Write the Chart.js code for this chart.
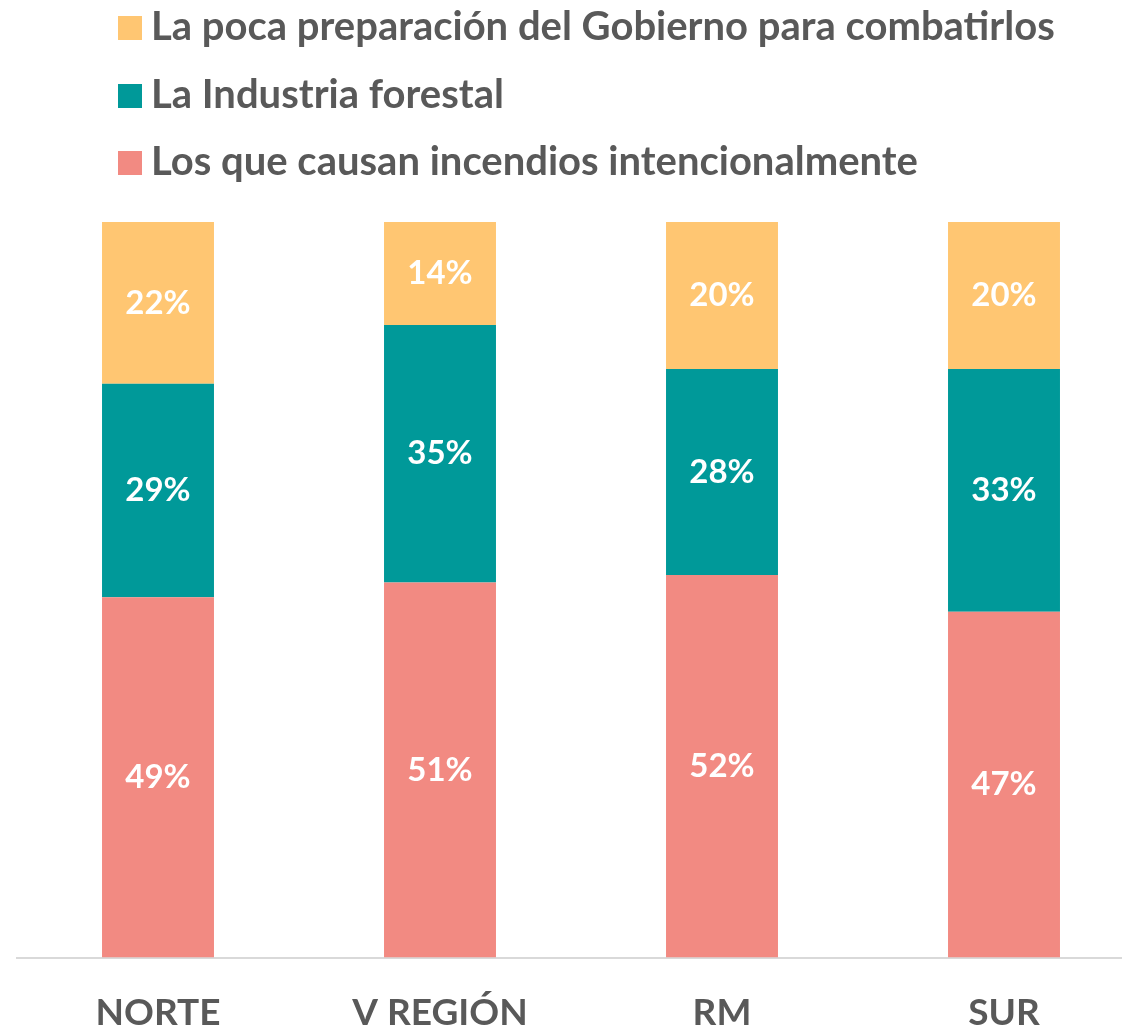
<!DOCTYPE html>
<html>
<head>
<meta charset="utf-8">
<script src="https://cdn.jsdelivr.net/npm/chart.js@4"></script>
<style>
  html, body { margin: 0; padding: 0; background: #fff; overflow: hidden; }
  #wrap { position: relative; width: 1122px; height: 1028px; overflow: hidden; }
  #chart { position: absolute; left: 0; top: 0; }
  #legend { position: absolute; left: 118px; top: -8px; font-family: Lato, sans-serif; font-weight: 700; font-size: 40px; color: #595959; }
  #legend div { height: 67.5px; line-height: 67.5px; white-space: nowrap; }
  #legend span.box { display: inline-block; width: 24px; height: 24px; margin-right: 9px; vertical-align: baseline; }
</style>
</head>
<body>
<div id="wrap">
  <canvas id="chart" width="1145" height="1060"></canvas>
  <div id="legend"></div>
</div>
<script>
const categories = ['NORTE', 'V REGIÓN', 'RM', 'SUR'];
const intencionales = [49, 51, 52, 47];
const industria = [29, 35, 28, 33];
const gobierno = [22, 14, 20, 20];
const seriesNames = [
  'Los que causan incendios intencionalmente',
  'La Industria forestal',
  'La poca preparación del Gobierno para combatirlos'
];
const colors = ['#F28A82', '#009999', '#FFC672'];

const barLabels = {
  id: 'barLabels',
  afterDatasetsDraw(chart) {
    const ctx = chart.ctx;
    ctx.save();
    ctx.font = '700 33px Lato, sans-serif';
    ctx.fillStyle = '#ffffff';
    ctx.textAlign = 'center';
    ctx.textBaseline = 'middle';
    chart.data.datasets.forEach((ds, i) => {
      chart.getDatasetMeta(i).data.forEach((bar, j) => {
        const y = (bar.y + bar.base) / 2;
        ctx.fillText(ds.data[j] + '%', bar.x, y);
      });
    });
    ctx.restore();
  }
};

const chart = new Chart(document.getElementById('chart'), {
  type: 'bar',
  data: {
    labels: categories,
    datasets: [
      { label: seriesNames[0], data: intencionales, backgroundColor: colors[0] },
      { label: seriesNames[1], data: industria, backgroundColor: colors[1] },
      { label: seriesNames[2], data: gobierno, backgroundColor: colors[2] }
    ]
  },
  options: {
    responsive: false,
    animation: false,
    layout: { padding: { top: 222, left: 17, right: 0, bottom: 0 } },
    datasets: { bar: { categoryPercentage: 1, barPercentage: 0.397 } },
    plugins: { legend: { display: false }, tooltip: { enabled: false } },
    scales: {
      x: {
        stacked: true,
        grid: { display: false },
        border: { color: '#d9d9d9', width: 2 },
        ticks: { color: '#595959', padding: 25, font: { family: 'Lato', weight: 'bold', size: 37 } }
      },
      y: {
        stacked: true,
        display: false,
        min: 0,
        max: 100
      }
    }
  },
  plugins: [barLabels]
});

const legend = document.getElementById('legend');
chart.data.datasets.slice().reverse().forEach(ds => {
  const row = document.createElement('div');
  const box = document.createElement('span');
  box.className = 'box';
  box.style.background = ds.backgroundColor;
  row.appendChild(box);
  row.appendChild(document.createTextNode(ds.label));
  legend.appendChild(row);
});
</script>
</body>
</html>
